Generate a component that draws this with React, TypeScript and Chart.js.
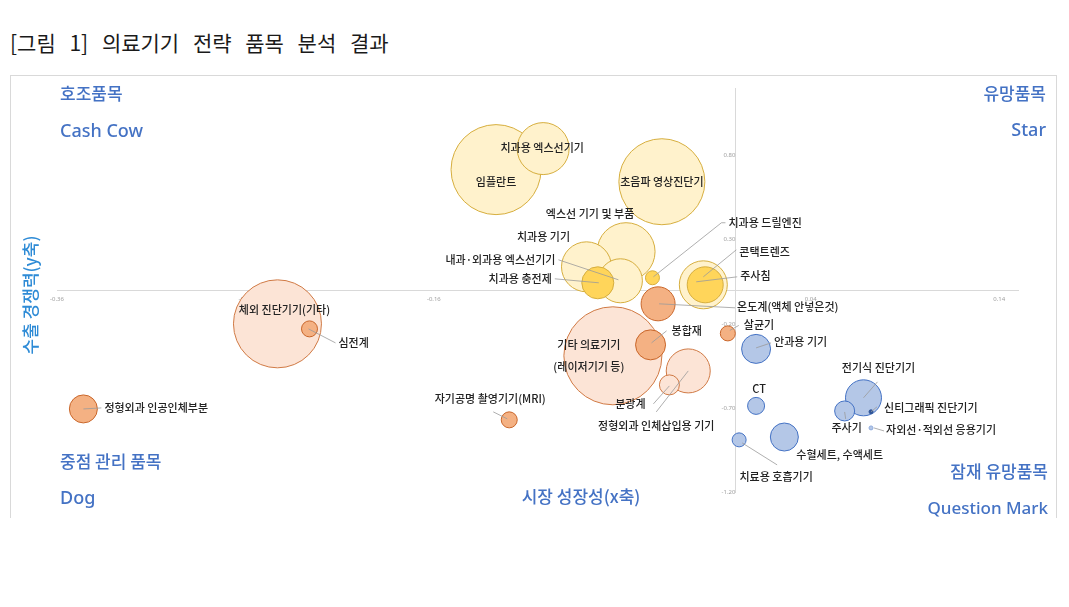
import React, { useEffect, useRef } from "react";
import { Chart, registerables } from "chart.js";

Chart.register(...registerables);

// ---------- data ----------
const items = [
  "체외 진단기기(기타)",
  "심전계",
  "정형외과 인공인체부분",
  "자기공명 촬영기기(MRI)",
  "임플란트",
  "치과용 엑스선기기",
  "초음파 영상진단기",
  "엑스선 기기 및 부품",
  "치과용 기기",
  "내과·외과용 엑스선기기",
  "치과용 충전제",
  "치과용 드릴엔진",
  "콘택트렌즈",
  "주사침",
  "기타 의료기기\n(레이저기기 등)",
  "온도계(액체 안넣은것)",
  "봉합재",
  "정형외과 인체삽입용 기기",
  "분광계",
  "살균기",
  "안과용 기기",
  "CT",
  "전기식 진단기기",
  "주사기",
  "신티그래픽 진단기기",
  "자외선·적외선 응용기기",
  "수혈세트, 수액세트",
  "치료용 호흡기기",
];

// 시장 성장성 (x축)
const marketGrowth = [
  -0.243, -0.226, -0.346, -0.120, -0.127, -0.102, -0.039, -0.058, -0.079, -0.061,
  -0.073, -0.044, -0.017, -0.016, -0.065, -0.041, -0.045, -0.025, -0.035, -0.004,
  0.011, 0.011, 0.068, 0.058, 0.072, 0.072, 0.026, 0.002,
];

// 수출 경쟁력 (y축)
const exportCompetitiveness = [
  -0.200, -0.230, -0.706, -0.771, 0.717, 0.842, 0.645, 0.229, 0.139, 0.056,
  0.044, 0.074, 0.032, 0.032, -0.390, -0.081, -0.325, -0.480, -0.563, -0.257,
  -0.349, -0.688, -0.640, -0.718, -0.723, -0.819, -0.873, -0.890,
];

// bubble size
const bubbleSize = [
  44, 8, 14, 8, 45, 26, 43, 29, 25, 22,
  16, 7, 24, 18, 49, 17, 15, 22, 10, 7.5,
  14.5, 8.5, 18, 10, 2, 2, 14, 7,
];

// colour group of each bubble
const colorGroup = [
  "peach", "orange", "orange", "orange", "pale", "pale", "pale", "pale", "pale", "pale",
  "gold", "gold", "pale", "gold", "peach", "orange", "orange", "peach", "peach", "orange",
  "blue", "blue", "blue", "blue", "navy", "sky", "blue", "blue",
];

const xTicks = [-0.36, -0.26, -0.16, -0.06, 0.04, 0.14];
const yTicks = [-1.2, -0.7, -0.2, 0.3, 0.8];

// ---------- styles ----------
const groupFill: Record<string, string> = {
  pale: "#FFF2CC",
  gold: "#FFD55A",
  orange: "#F4B183",
  peach: "#FCE4D6",
  blue: "#B4C7E7",
  navy: "#2F5597",
  sky: "#B4C7E7",
};
const groupBorder: Record<string, string> = {
  pale: "#D6AE3E",
  gold: "#D6AE3E",
  orange: "#C9662A",
  peach: "#D07A45",
  blue: "#4472C4",
  navy: "#2F5597",
  sky: "#8FAADC",
};

type Lbl = { t: [number, number]; a?: CanvasTextAlign; l?: [number, number][] };
// label placement, pixel offsets from bubble centre
const labelLayout: Lbl[] = [
  { t: [7, -14] },
  { t: [29, 14], a: "left", l: [[-1, 0], [26, 14]] },
  { t: [21, -1], a: "left", l: [[0, 0], [18, -1]] },
  { t: [-19, -21], l: [[-16, -8], [-2, -1]] },
  { t: [0, 12] },
  { t: [-1, -1] },
  { t: [0, 0] },
  { t: [-36, -38] },
  { t: [-43, -30] },
  { t: [-65, -21], a: "right", l: [[-62, -21], [-2, -1]] },
  { t: [-46, -4], a: "right", l: [[-43, -4], [1, 0]] },
  { t: [76, -55], a: "left", l: [[1, -1], [69, -55], [73, -55]] },
  { t: [36, -33], a: "left", l: [[0, -8], [33, -35]] },
  { t: [35, -9], a: "left", l: [[-9, -3], [32, -8]] },
  { t: [-24, -11] },
  { t: [79, 3], a: "left", l: [[1, 0], [77, 4]] },
  { t: [21, -14], a: "left", l: [[1, -2], [16, -14]] },
  { t: [-32, 55], l: [[-32, 41], [0, 0]] },
  { t: [-39, 19], l: [[-16, 19], [0, 1]] },
  { t: [16, -9], a: "left", l: [[2, -3], [11, -8]] },
  { t: [18, -7], a: "left", l: [[0, -1], [15, -6]] },
  { t: [3, -17] },
  { t: [15, -30], l: [[0, 0], [14, -16]] },
  { t: [2, 17], l: [[0, 1], [1, 8]] },
  { t: [13, -4], a: "left", l: [[0, 0], [6, -5]] },
  { t: [15, 2], a: "left", l: [[3, 0], [13, 3]] },
  { t: [12, 18], a: "left" },
  { t: [37, 37], l: [[3, 3], [38, 25]] },
];

const KR = '"Noto Sans CJK KR", "Noto Sans", sans-serif';
const LAT = '"Noto Sans", "Noto Sans CJK KR", sans-serif';
const QUAD = "#4472C4";

const labelPlugin = {
  id: "bubbleLabels",
  afterDatasetsDraw(chart: any) {
    const ctx: CanvasRenderingContext2D = chart.ctx;
    const meta = chart.getDatasetMeta(0);
    const ca = chart.chartArea;
    ctx.save();
    // leader lines
    ctx.strokeStyle = "#9A9A9A";
    ctx.lineWidth = 0.8;
    meta.data.forEach((el: any, i: number) => {
      const lay = labelLayout[i];
      if (!lay.l) return;
      ctx.beginPath();
      lay.l.forEach(([dx, dy], k) => {
        if (k === 0) ctx.moveTo(el.x + dx, el.y + dy);
        else ctx.lineTo(el.x + dx, el.y + dy);
      });
      ctx.stroke();
    });
    // labels
    ctx.fillStyle = "#222222";
    ctx.font = `500 11px ${KR}`;
    ctx.textBaseline = "middle";
    meta.data.forEach((el: any, i: number) => {
      const lay = labelLayout[i];
      ctx.textAlign = lay.a || "center";
      const lines = items[i].split("\n");
      lines.forEach((line, k) => {
        ctx.fillText(line, el.x + lay.t[0], el.y + lay.t[1] + k * 22);
      });
    });

    // quadrant captions
    ctx.fillStyle = QUAD;
    const kr = `500 17px ${KR}`;
    const lat = `500 18px ${LAT}`;
    ctx.textAlign = "left";
    ctx.font = kr;
    ctx.fillText("호조품목", ca.left + 3, ca.top + 5);
    ctx.fillText("중점 관리 품목", ca.left + 3, ca.bottom - 30);
    ctx.font = lat;
    ctx.fillText("Cash Cow", ca.left + 3, ca.top + 43);
    ctx.fillText("Dog", ca.left + 3, ca.bottom + 7);
    ctx.textAlign = "right";
    ctx.font = kr;
    ctx.fillText("유망품목", ca.right + 28, ca.top + 5);
    ctx.fillText("잠재 유망품목", ca.right + 30, ca.bottom - 20);
    ctx.font = lat;
    ctx.fillText("Star", ca.right + 28, ca.top + 42);
    ctx.font = `500 17px ${LAT}`;
    ctx.fillText("Question Mark", ca.right + 30, ca.bottom + 17);
    ctx.textAlign = "center";
    ctx.font = kr;
    ctx.fillText("시장 성장성(x축)", 570, ca.bottom + 5);
    // y axis title
    ctx.fillStyle = "#2E8BD6";
    ctx.translate(20, 219);
    ctx.rotate(-Math.PI / 2);
    ctx.fillText("수출 경쟁력(y축)", 0, 0);
    ctx.restore();
  },
};

export default function App() {
  const ref = useRef<HTMLCanvasElement | null>(null);

  useEffect(() => {
    if (!ref.current) return;
    const chart = new Chart(ref.current, {
      type: "bubble",
      data: {
        datasets: [
          {
            data: items.map((_, i) => ({
              x: marketGrowth[i],
              y: exportCompetitiveness[i],
              r: bubbleSize[i],
            })),
            backgroundColor: colorGroup.map((g) => groupFill[g]),
            borderColor: colorGroup.map((g) => groupBorder[g]),
            borderWidth: 1,
            hoverRadius: 0,
            clip: false as any,
          },
        ],
      },
      options: {
        animation: false,
        responsive: false,
        events: [],
        layout: { autoPadding: false, padding: { left: 46, top: 12.4, right: 38, bottom: 25 } },
        plugins: { legend: { display: false }, tooltip: { enabled: false } },
        scales: {
          x: {
            type: "linear",
            min: -0.36,
            max: 0.15,
            position: { y: 0 } as any,
            grid: { display: true, color: "rgba(0,0,0,0)", drawTicks: false },
            border: { display: true, color: "#D9D9D9", width: 1 },
            afterBuildTicks: (s: any) => {
              s.ticks = xTicks.map((v) => ({ value: v }));
            },
            afterFit: (s: any) => {
              s.height = 0;
            },
            ticks: {
              padding: 5,
              color: "#A0A0A0",
              font: { size: 6, family: "Noto Sans" },
              maxRotation: 0,
              autoSkip: false,
              callback: (v: any) => Number(v).toFixed(2),
            },
          },
          y: {
            type: "linear",
            min: -1.2,
            max: 1.2,
            position: { x: 0 } as any,
            grid: { display: true, color: "rgba(0,0,0,0)", drawTicks: false },
            border: { display: true, color: "#D9D9D9", width: 1 },
            afterBuildTicks: (s: any) => {
              s.ticks = yTicks.map((v) => ({ value: v }));
            },
            afterFit: (s: any) => {
              s.width = 0;
            },
            ticks: {
              padding: 7,
              color: "#A0A0A0",
              font: { size: 6, family: "Noto Sans" },
              autoSkip: false,
              callback: (v: any) => Number(v).toFixed(2),
            },
          },
        },
      },
      plugins: [labelPlugin],
    });
    return () => chart.destroy();
  }, []);

  return (
    <div style={{ position: "absolute", left: 0, top: 0, width: 1069, height: 607, background: "#fff" }}>
      <div
        style={{
          position: "absolute",
          left: 10,
          top: 29,
          font: `21px ${KR}`,
          lineHeight: "26px",
          color: "#1a1a1a",
          wordSpacing: 9,
          whiteSpace: "nowrap",
        }}
      >
        [그림 1] 의료기기 전략 품목 분석 결과
      </div>
      <div
        style={{
          position: "absolute",
          left: 10,
          top: 75,
          width: 1045,
          height: 442,
          borderTop: "1px solid #D9D9D9",
          borderLeft: "1px solid #D9D9D9",
          borderRight: "1px solid #D9D9D9",
        }}
      >
        <canvas ref={ref} width={1045} height={441} style={{ display: "block", width: 1045, height: 441 }} />
      </div>
    </div>
  );
}
